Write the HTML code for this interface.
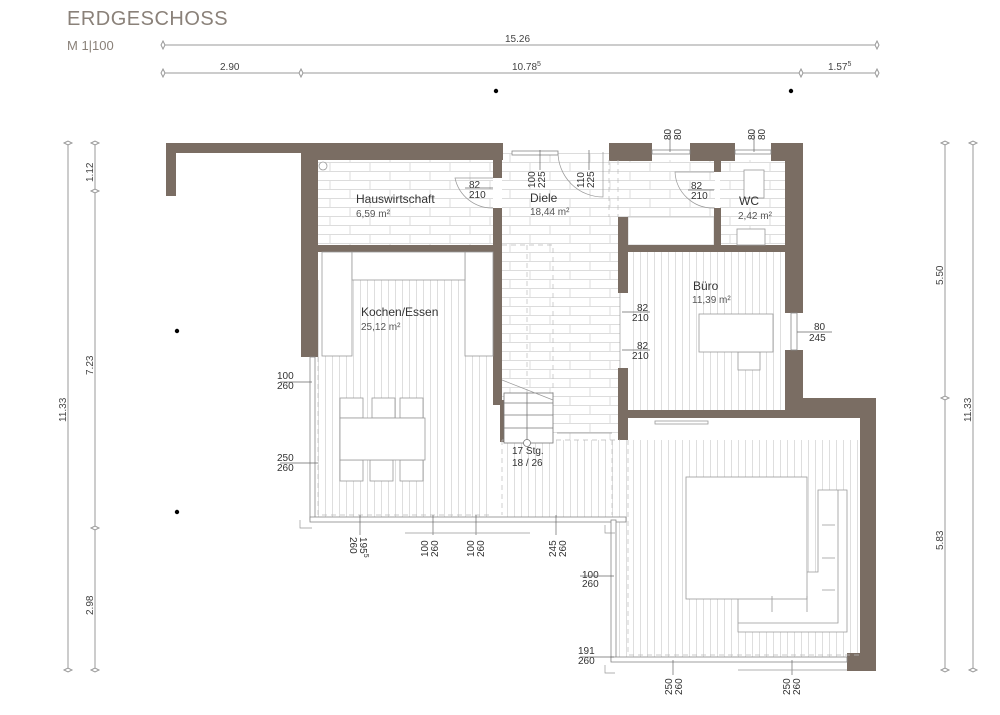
<!DOCTYPE html>
<html><head><meta charset="utf-8"><style>
html,body{margin:0;padding:0;background:#fff;}
svg{display:block;font-family:"Liberation Sans",sans-serif;}
</style></head><body>
<svg width="1000" height="715" viewBox="0 0 1000 715" xmlns="http://www.w3.org/2000/svg">
<defs>
<pattern id="tile" width="40" height="18" patternUnits="userSpaceOnUse">
<rect width="40" height="18" fill="#fff"/>
<path d="M0 0.5H40M0 9.5H40M10 0V9M30 9V18" stroke="#dcdcdc" stroke-width="1" fill="none"/>
</pattern>
<pattern id="wood" width="7" height="10" patternUnits="userSpaceOnUse">
<rect width="7" height="10" fill="#fff"/>
<path d="M3.5 0V10" stroke="#d6d6d6" stroke-width="0.8"/>
</pattern>
</defs>

<text x="67" y="25" font-size="20" fill="#8a8179" letter-spacing="0.5">ERDGESCHOSS</text>
<text x="67" y="50" font-size="13" fill="#8a8179">M 1|100</text>

<g stroke="#999" stroke-width="1" fill="#fff">
<line x1="163" y1="45" x2="877" y2="45"/>
<line x1="163" y1="73" x2="877" y2="73"/>
<line x1="68" y1="143" x2="68" y2="670"/>
<line x1="95" y1="143" x2="95" y2="670"/>
<line x1="945" y1="143" x2="945" y2="670"/>
<line x1="973" y1="143" x2="973" y2="670"/>
<path d="M163 41l2 4-2 4-2-4z M877 41l2 4-2 4-2-4z"/>
<path d="M163 69l2 4-2 4-2-4z M301 69l2 4-2 4-2-4z M801 69l2 4-2 4-2-4z M877 69l2 4-2 4-2-4z"/>
<path d="M64 143l4-2 4 2-4 2z M64 670l4-2 4 2-4 2z"/>
<path d="M91 143l4-2 4 2-4 2z M91 191l4-2 4 2-4 2z M91 528l4-2 4 2-4 2z M91 670l4-2 4 2-4 2z"/>
<path d="M941 143l4-2 4 2-4 2z M941 398l4-2 4 2-4 2z M941 670l4-2 4 2-4 2z"/>
<path d="M969 143l4-2 4 2-4 2z M969 670l4-2 4 2-4 2z"/>
</g>
<g font-size="10" fill="#444">
<text x="505" y="42">15.26</text>
<text x="220" y="70">2.90</text>
<text x="512" y="70">10.78<tspan font-size="7" dy="-4">5</tspan></text>
<text x="828" y="70">1.57<tspan dy="-4" font-size="7">5</tspan></text>
<text transform="translate(66,422) rotate(-90)">11.33</text>
<text transform="translate(93,182) rotate(-90)">1.12</text>
<text transform="translate(93,375) rotate(-90)">7.23</text>
<text transform="translate(93,615) rotate(-90)">2.98</text>
<text transform="translate(943,285) rotate(-90)">5.50</text>
<text transform="translate(943,550) rotate(-90)">5.83</text>
<text transform="translate(971,422) rotate(-90)">11.33</text>
</g>
<g fill="#000">
<circle cx="496" cy="91" r="2.2"/><circle cx="791" cy="91" r="2.2"/>
<circle cx="177" cy="331" r="2.2"/><circle cx="177" cy="512" r="2.2"/>
</g>

<rect x="318" y="160" width="175" height="85" fill="url(#tile)"/>
<rect x="502" y="153" width="118" height="287" fill="url(#tile)"/>
<rect x="609" y="160" width="106" height="57" fill="url(#tile)"/>
<rect x="720" y="160" width="66" height="85" fill="url(#tile)"/>
<rect x="318" y="280" width="175" height="238" fill="url(#wood)"/>
<rect x="502" y="440" width="118" height="78" fill="url(#wood)"/>
<rect x="628" y="252" width="157" height="158" fill="url(#wood)"/>
<rect x="616" y="440" width="244" height="218" fill="url(#wood)"/>
<rect x="628" y="217" width="86" height="28" fill="#fff" stroke="#bbb" stroke-width="0.7"/>

<g fill="#7a6d63">
<rect x="166" y="143" width="337" height="10"/>
<rect x="166" y="143" width="10" height="53"/>
<rect x="301" y="143" width="202" height="17"/>
<rect x="301" y="143" width="17" height="214"/>
<rect x="318" y="245" width="184" height="7"/>
<rect x="493" y="153" width="9" height="25"/>
<rect x="493" y="208" width="9" height="197"/>
<rect x="500" y="400" width="4" height="42"/>
<rect x="609" y="143" width="43" height="18"/>
<rect x="690" y="143" width="45" height="18"/>
<rect x="771" y="143" width="32" height="18"/>
<rect x="785" y="143" width="18" height="170"/>
<rect x="785" y="350" width="18" height="60"/>
<rect x="785" y="398" width="91" height="17"/>
<rect x="860" y="398" width="16" height="273"/>
<rect x="847" y="653" width="29" height="18"/>
<rect x="618" y="217" width="10" height="76"/>
<rect x="618" y="368" width="10" height="72"/>
<rect x="627" y="245" width="158" height="7"/>
<rect x="618" y="410" width="242" height="8"/>
<rect x="714" y="160" width="7" height="12"/>
<rect x="714" y="208" width="7" height="37"/>
</g>

<g fill="#fff" stroke="#888" stroke-width="0.8">
<rect x="512" y="151" width="46" height="4"/>
<rect x="652" y="150" width="38" height="4"/>
<rect x="735" y="150" width="36" height="4"/>
<rect x="791" y="313" width="6" height="37"/>
<rect x="310" y="357" width="5" height="163"/>
<rect x="310" y="517" width="316" height="5"/>
<rect x="611" y="520" width="5" height="141"/>
<rect x="611" y="657" width="236" height="5"/>
</g>
<g fill="none" stroke="#bbb" stroke-width="0.7" stroke-dasharray="5,4">
<path d="M318 357V515H493M502 440V515M502 440H620M612 440V515M628 440V655H860"/>
<path d="M502 245H553V400M527 245V400M609 160V217M618 160V217"/>
</g>

<g fill="none" stroke="#999" stroke-width="0.7">
<path d="M493 178H455A38 38 0 0 0 493 208"/>
<path d="M558 152A45 45 0 0 0 603 197V152"/>
<path d="M714 172H675A38 38 0 0 0 714 208"/>
<path d="M620 293V368"/>
<path d="M557 433H612"/>
</g>

<g fill="#fff" stroke="#777" stroke-width="0.8">
<rect x="504" y="393" width="49" height="50"/>
<path d="M504 403H553M504 415H553M504 428H553M527 393V443"/>
<circle cx="527" cy="443" r="3.5"/>
</g>
<path d="M502 380L553 400" stroke="#999" stroke-width="0.7"/>

<g fill="#fff" stroke="#999" stroke-width="0.8">
<rect x="322" y="252" width="30" height="104"/>
<rect x="465" y="252" width="28" height="104"/>
<rect x="352" y="252" width="113" height="28"/>
<rect x="340" y="398" width="23" height="20"/>
<rect x="372" y="398" width="23" height="20"/>
<rect x="400" y="398" width="23" height="20"/>
<rect x="340" y="460" width="23" height="21"/>
<rect x="370" y="460" width="23" height="21"/>
<rect x="400" y="460" width="23" height="21"/>
<rect x="340" y="418" width="85" height="42"/>
<circle cx="323" cy="166" r="4"/>
</g>
<g fill="#fff" stroke="#999" stroke-width="0.8">
<rect x="738" y="352" width="22" height="18"/>
<rect x="699" y="314" width="74" height="38"/>
<rect x="744" y="170" width="20" height="28"/>
<rect x="737" y="229" width="28" height="16"/>
<rect x="655" y="421" width="53" height="3"/>
<path d="M818 490H847V632H738V572H818Z"/>
<path d="M838 490V623H738" fill="none"/>
<rect x="686" y="477" width="121" height="122"/>
<path d="M822 525H835M822 558H835M822 590H835M772 596V612M807 596V612" fill="none"/>
</g>

<g fill="#333">
<text x="356" y="203" font-size="12">Hauswirtschaft</text>
<text x="356" y="217" font-size="10" fill="#555">6,59 m²</text>
<text x="530" y="202" font-size="12">Diele</text>
<text x="530" y="215" font-size="10" fill="#555">18,44 m²</text>
<text x="739" y="205" font-size="12">WC</text>
<text x="738" y="219" font-size="10" fill="#555">2,42 m²</text>
<text x="693" y="290" font-size="12">Büro</text>
<text x="692" y="303" font-size="10" fill="#555">11,39 m²</text>
<text x="361" y="316" font-size="12">Kochen/Essen</text>
<text x="361" y="330" font-size="10" fill="#555">25,12 m²</text>
</g>

<g font-size="10" fill="#333">
<text x="469" y="188">82</text><text x="469" y="198">210</text>
<text x="691" y="189">82</text><text x="691" y="199">210</text>
<text x="637" y="311">82</text><text x="632" y="321">210</text>
<text x="637" y="349">82</text><text x="632" y="359">210</text>
<text x="814" y="330">80</text><text x="809" y="341">245</text>
<text x="277" y="379">100</text><text x="277" y="389">260</text>
<text x="277" y="461">250</text><text x="277" y="471">260</text>
<text x="512" y="454">17 Stg.</text><text x="512" y="466">18 / 26</text>
<text x="582" y="578">100</text><text x="582" y="587">260</text>
<text x="578" y="654">191</text><text x="578" y="664">260</text>
<text transform="translate(535,188) rotate(-90)">100</text><text transform="translate(545,188) rotate(-90)">225</text>
<text transform="translate(584,188) rotate(-90)">110</text><text transform="translate(594,188) rotate(-90)">225</text>
<text transform="translate(671,140) rotate(-90)">80</text><text transform="translate(681,140) rotate(-90)">80</text>
<text transform="translate(755,140) rotate(-90)">80</text><text transform="translate(765,140) rotate(-90)">80</text>
<text transform="translate(360,537) rotate(90)">195<tspan font-size="7" dy="-4">5</tspan></text><text transform="translate(350,537) rotate(90)">260</text>
<text transform="translate(428,557) rotate(-90)">100</text><text transform="translate(438,557) rotate(-90)">260</text>
<text transform="translate(474,557) rotate(-90)">100</text><text transform="translate(484,557) rotate(-90)">260</text>
<text transform="translate(556,557) rotate(-90)">245</text><text transform="translate(566,557) rotate(-90)">260</text>
<text transform="translate(672,695) rotate(-90)">250</text><text transform="translate(682,695) rotate(-90)">260</text>
<text transform="translate(790,695) rotate(-90)">250</text><text transform="translate(800,695) rotate(-90)">260</text>
</g>
<g stroke="#666" stroke-width="0.7">
<line x1="280" y1="382" x2="312" y2="382"/>
<line x1="280" y1="463" x2="318" y2="463"/>
<line x1="580" y1="576" x2="614" y2="576"/>
<line x1="580" y1="657" x2="614" y2="657"/>
<line x1="360" y1="515" x2="360" y2="535"/>
<line x1="433" y1="515" x2="433" y2="535"/>
<line x1="476" y1="515" x2="476" y2="535"/>
<line x1="556" y1="515" x2="556" y2="535"/>
<line x1="673" y1="660" x2="673" y2="675"/>
<line x1="792" y1="660" x2="792" y2="675"/>
<line x1="540" y1="150" x2="540" y2="170"/>
<line x1="589" y1="150" x2="589" y2="170"/>
<line x1="670" y1="130" x2="670" y2="152"/>
<line x1="754" y1="130" x2="754" y2="152"/>
<line x1="797" y1="332" x2="832" y2="332"/>
<line x1="622" y1="312" x2="650" y2="312"/>
<line x1="622" y1="350" x2="650" y2="350"/>
<line x1="465" y1="188" x2="493" y2="188"/>
<line x1="688" y1="190" x2="714" y2="190"/>
</g>
<g stroke="#999" stroke-width="0.7" fill="none">
<path d="M300 520V528H312"/><path d="M405 533H530"/><path d="M605 525V533H615"/>
<path d="M605 665V673H615"/><path d="M738 670H847"/>
</g>
</svg>
</body></html>
